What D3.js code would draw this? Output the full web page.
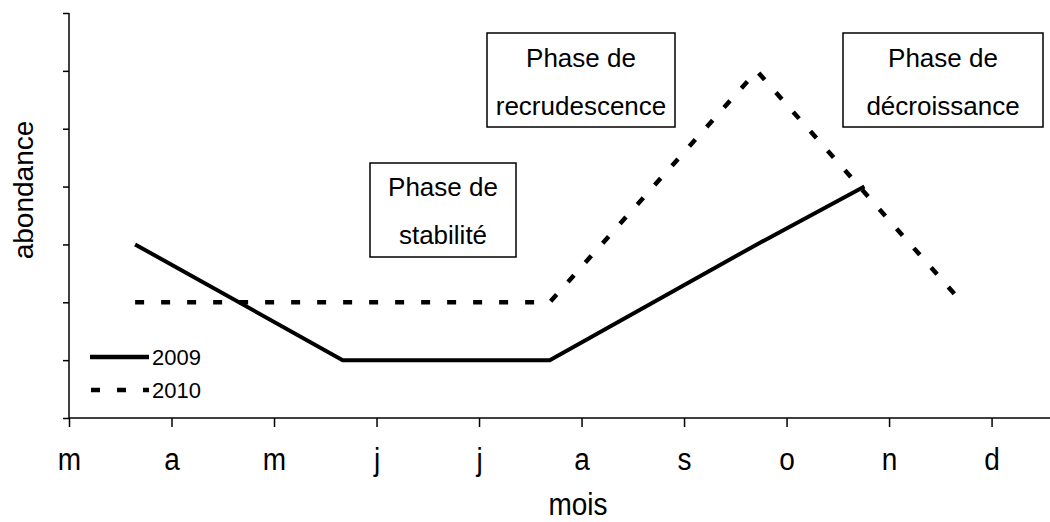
<!DOCTYPE html>
<html>
<head>
<meta charset="utf-8">
<script src="https://cdn.jsdelivr.net/npm/d3@7"></script>
<style>
  html, body { margin: 0; padding: 0; background: #fff; }
  svg { display: block; font-family: "Liberation Sans", Arial, sans-serif; }
</style>
</head>
<body>
<svg id="chart" width="1050" height="522"></svg>
<script>
// ---- data ----
const monthLabels = ["m", "a", "m", "j", "j", "a", "s", "o", "n", "d"];
const monthTicks = [0, 1, 2, 3, 4, 5, 6, 7, 8, 9];
const x2009 = [0.645, 2.67, 4.69, 6.71, 7.76];
const y2009 = [3, 1, 1, 3, 4];
const x2010 = [0.645, 2.67, 4.69, 6.71, 8.71];
const y2010 = [2, 2, 2, 6, 2];
const seriesNames = ["2009", "2010"];
const yTicks = [0, 1, 2, 3, 4, 5, 6, 7];
const phaseLabels = [
  ["Phase de", "stabilité"],
  ["Phase de", "recrudescence"],
  ["Phase de", "décroissance"]
];

const svg = d3.select("#chart");
const x = d3.scaleLinear().domain([0, 9.57]).range([69, 1050]);
const y = d3.scaleLinear().domain([0, 7]).range([418, 13]);

// axes
const yAxis = d3.axisLeft(y).tickValues(yTicks).tickSize(6).tickFormat("");
const gy = svg.append("g").attr("transform", "translate(69,0)").call(yAxis);
gy.select(".domain").attr("d", "M0,13V418").attr("stroke", "#000").attr("stroke-width", 1.5);
gy.selectAll(".tick line").attr("stroke", "#000").attr("stroke-width", 1.5);

const xAxis = d3.axisBottom(x).tickValues(monthTicks).tickSize(9)
  .tickFormat((d, i) => monthLabels[i]).tickPadding(0);
const gx = svg.append("g").attr("transform", "translate(0,418)").call(xAxis);
gx.select(".domain").attr("d", "M69,0H1050").attr("stroke", "#000").attr("stroke-width", 1.5);
gx.selectAll(".tick line").attr("stroke", "#000").attr("stroke-width", 1.5);
gx.selectAll(".tick text").attr("font-size", 28).attr("fill", "#000")
  .attr("font-family", "Liberation Sans, Arial, sans-serif")
  .attr("y", 0).attr("dy", 0)
  .attr("transform", "translate(0,52) scale(1,1.13)");

// axis titles
svg.append("text").attr("transform", "translate(578,515) scale(1,1.12)")
  .attr("text-anchor", "middle").attr("font-size", 28).text("mois");
svg.append("text").attr("transform", "translate(33,190) rotate(-90)")
  .attr("text-anchor", "middle").attr("font-size", 28).text("abondance");

// lines
const line = d3.line().x(d => x(d[0])).y(d => y(d[1]));
const d2009 = x2009.map((v, i) => [v, y2009[i]]);
const d2010 = x2010.map((v, i) => [v, y2010[i]]);
svg.append("path").attr("d", line(d2009)).attr("fill", "none")
  .attr("stroke", "#000").attr("stroke-width", 4).attr("stroke-linejoin", "miter");
svg.append("path").attr("d", line(d2010)).attr("fill", "none")
  .attr("stroke", "#000").attr("stroke-width", 4.5).attr("stroke-dasharray", "9,17");

// phase boxes
const boxes = [
  { x0: 370, x1: 516, y0: 163, y1: 257, b1: 196, b2: 244 },
  { x0: 487, x1: 675, y0: 33, y1: 127, b1: 67, b2: 115 },
  { x0: 843, x1: 1043, y0: 33, y1: 127, b1: 67, b2: 115 }
];
boxes.forEach((b, i) => {
  svg.append("rect").attr("x", b.x0).attr("y", b.y0)
    .attr("width", b.x1 - b.x0).attr("height", b.y1 - b.y0)
    .attr("fill", "#fff").attr("stroke", "#000").attr("stroke-width", 1.5);
  const cx = (b.x0 + b.x1) / 2;
  svg.append("text").attr("x", cx).attr("y", b.b1).attr("text-anchor", "middle")
    .attr("font-size", 26).text(phaseLabels[i][0]);
  svg.append("text").attr("x", cx).attr("y", b.b2).attr("text-anchor", "middle")
    .attr("font-size", 26).text(phaseLabels[i][1]);
});

// legend
const leg = [
  { y: 357, ty: 365, dash: null },
  { y: 390, ty: 398, dash: "9,17" }
];
leg.forEach((l, i) => {
  const ln = svg.append("line").attr("x1", 90).attr("x2", 149)
    .attr("y1", l.y).attr("y2", l.y).attr("stroke", "#000").attr("stroke-width", 4.5);
  if (l.dash) ln.attr("stroke-dasharray", l.dash).attr("x1", 91);
  svg.append("text").attr("x", 152).attr("y", l.ty).attr("font-size", 22).text(seriesNames[i]);
});
</script>
</body>
</html>
